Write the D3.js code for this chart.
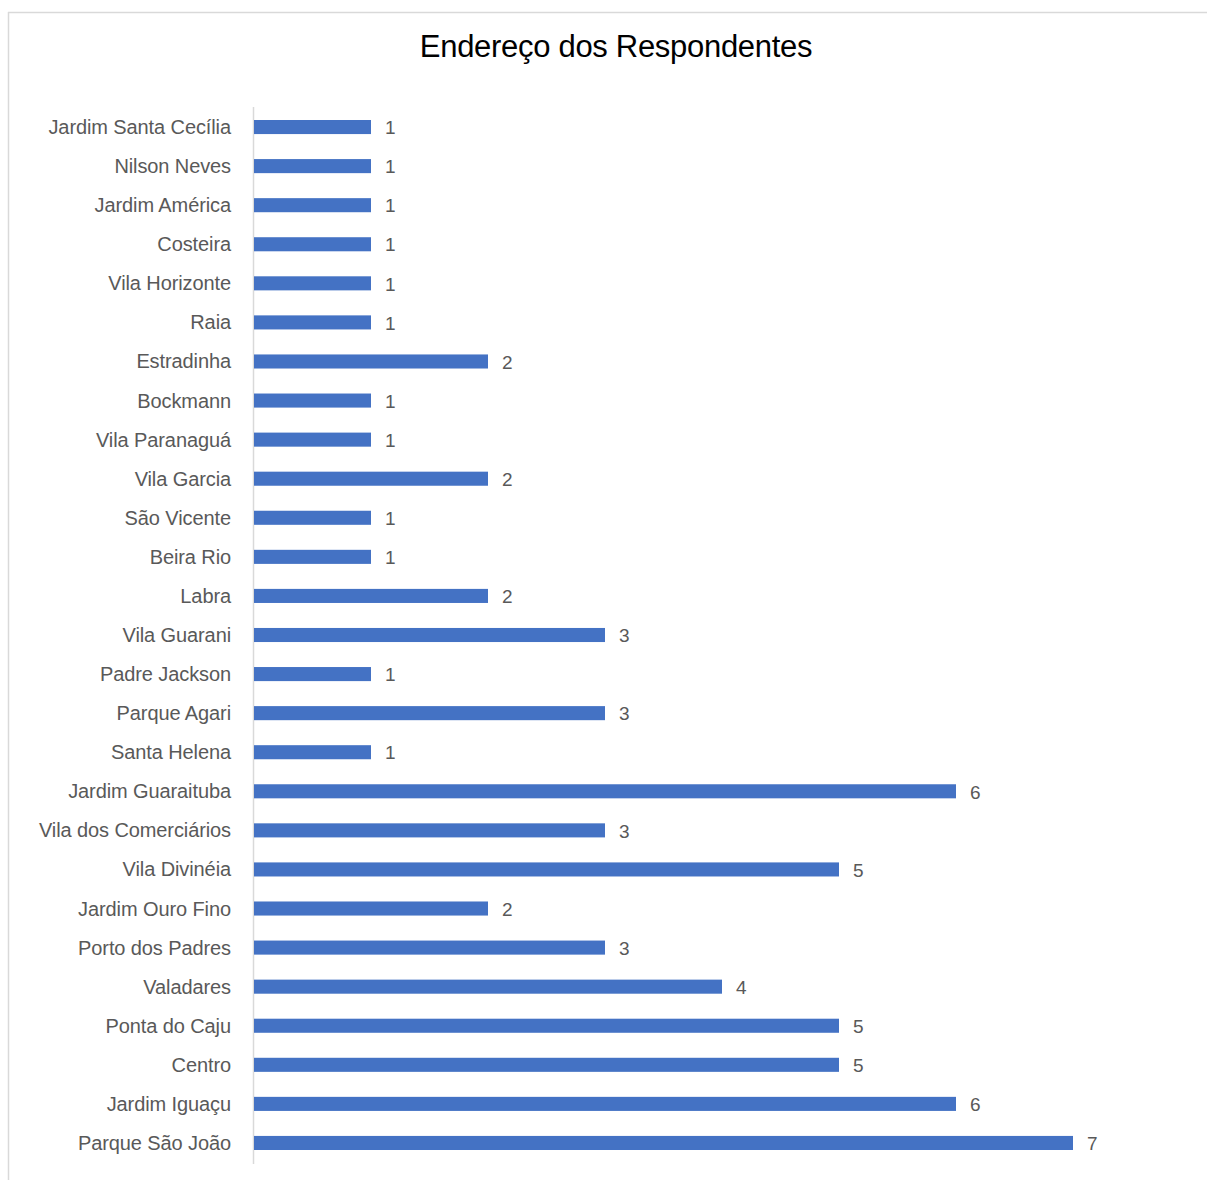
<!DOCTYPE html>
<html><head><meta charset="utf-8">
<script src="https://cdn.jsdelivr.net/npm/d3@7"></script>
<style>body{margin:0;background:#fff}</style>
</head><body>
<script>
const categories = ["Jardim Santa Cecília","Nilson Neves","Jardim América","Costeira","Vila Horizonte","Raia","Estradinha","Bockmann","Vila Paranaguá","Vila Garcia","São Vicente","Beira Rio","Labra","Vila Guarani","Padre Jackson","Parque Agari","Santa Helena","Jardim Guaraituba","Vila dos Comerciários","Vila Divinéia","Jardim Ouro Fino","Porto dos Padres","Valadares","Ponta do Caju","Centro","Jardim Iguaçu","Parque São João"];
const values = [1,1,1,1,1,1,2,1,1,2,1,1,2,3,1,3,1,6,3,5,2,3,4,5,5,6,7];
const title = "Endereço dos Respondentes";

const W = 1207, H = 1180;
const svg = d3.select("body").append("svg").attr("width", W).attr("height", H);
svg.append("rect").attr("width", W).attr("height", H).attr("fill", "#fff");
// chart border (top & left visible)
svg.append("line").attr("x1", 8).attr("x2", W).attr("y1", 12.5).attr("y2", 12.5).attr("stroke", "#d9d9d9").attr("stroke-width", 1.5);
svg.append("line").attr("x1", 8.5).attr("x2", 8.5).attr("y1", 12).attr("y2", H).attr("stroke", "#d9d9d9").attr("stroke-width", 1.5);

svg.append("text").attr("x", 616).attr("y", 57).attr("text-anchor", "middle")
  .attr("font-family", "Liberation Sans, Arial, sans-serif").attr("font-size", 31)
  .attr("letter-spacing", -0.3)
  .attr("fill", "#000").text(title);

const x0 = 254;
const x = d3.scaleLinear().domain([0, 7]).range([x0, 1073]);
const y = d3.scaleBand().domain(categories).range([107.5, 1162.5]).paddingInner(0.64).paddingOuter(0.32);

svg.append("line").attr("x1", 253.5).attr("x2", 253.5).attr("y1", 107).attr("y2", 1164).attr("stroke", "#d9d9d9").attr("stroke-width", 1.5);

svg.selectAll("rect.bar").data(categories).join("rect").attr("class", "bar")
  .attr("x", x0).attr("y", d => y(d)).attr("height", y.bandwidth())
  .attr("width", (d, i) => x(values[i]) - x0).attr("fill", "#4472C4");

svg.selectAll("text.lab").data(categories).join("text").attr("class", "lab")
  .attr("x", 231).attr("y", d => y(d) + y.bandwidth() / 2).attr("dy", "0.35em")
  .attr("text-anchor", "end").attr("font-family", "Liberation Sans, Arial, sans-serif")
  .attr("font-size", 20).attr("fill", "#595959").attr("letter-spacing", -0.1).text(d => d);

svg.selectAll("text.val").data(categories).join("text").attr("class", "val")
  .attr("x", (d, i) => x(values[i]) + 14).attr("y", d => y(d) + y.bandwidth() / 2).attr("dy", "0.38em")
  .attr("font-family", "Liberation Sans, Arial, sans-serif")
  .attr("font-size", 19).attr("fill", "#595959").text((d, i) => values[i]);
</script>
</body></html>
